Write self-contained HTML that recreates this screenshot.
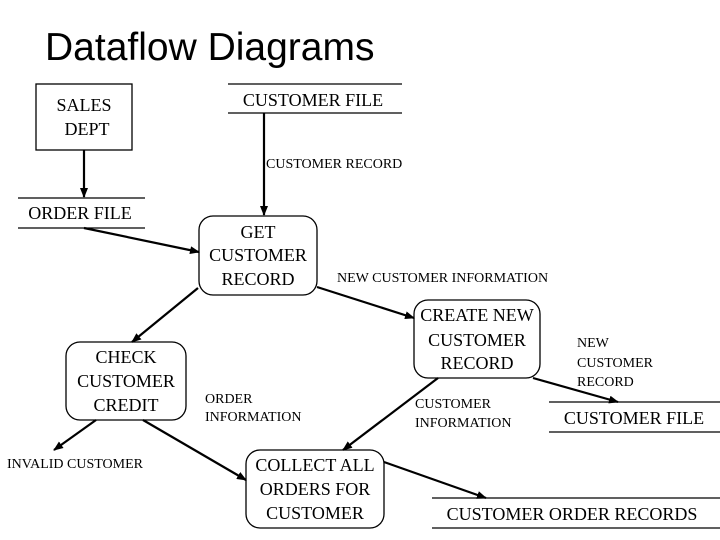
<!DOCTYPE html>
<html><head><style>
body{margin:0;background:#fff;}
svg{display:block}
.s{font-family:"Liberation Serif",serif;fill:#000}
</style></head><body>
<svg width="720" height="540" viewBox="0 0 720 540" xmlns="http://www.w3.org/2000/svg">
<defs><marker id="a" markerWidth="10" markerHeight="8" refX="9" refY="4" orient="auto" markerUnits="userSpaceOnUse"><path d="M0,0 L10,4 L0,8 z" fill="#000"/></marker></defs>
<text x="45" y="60" font-family="Liberation Sans,sans-serif" font-size="39" fill="#000">Dataflow Diagrams</text>
<g fill="none" stroke="#000" stroke-width="1.3">
<rect x="36" y="84" width="96" height="66"/>
<line x1="228" y1="84" x2="402" y2="84"/><line x1="228" y1="113" x2="402" y2="113"/>
<line x1="18" y1="198" x2="145" y2="198"/><line x1="18" y1="228" x2="145" y2="228"/>
<rect x="199" y="216" width="118" height="79" rx="14"/>
<rect x="414" y="300" width="126" height="78" rx="14"/>
<rect x="66" y="342" width="120" height="78" rx="14"/>
<rect x="246" y="450" width="138" height="78" rx="14"/>
<line x1="549" y1="402" x2="720" y2="402"/><line x1="549" y1="432" x2="720" y2="432"/>
<line x1="432" y1="498" x2="720" y2="498"/><line x1="432" y1="528" x2="720" y2="528"/>
</g>
<g stroke="#000" stroke-width="2.2" marker-end="url(#a)">
<line x1="84" y1="150" x2="84" y2="197"/>
<line x1="264" y1="113" x2="264" y2="215"/>
<line x1="84" y1="228" x2="199" y2="252"/>
<line x1="317" y1="287" x2="414" y2="318"/>
<line x1="533" y1="378" x2="618" y2="402"/>
<line x1="438" y1="378" x2="343" y2="450"/>
<line x1="198" y1="288" x2="132" y2="342"/>
<line x1="143" y1="420" x2="246" y2="480"/>
<line x1="96" y1="420" x2="54" y2="450"/>
<line x1="384" y1="462" x2="486" y2="498"/>
</g>
<g class="s" font-size="18" text-anchor="middle">
<text x="84" y="111">SALES</text><text x="87" y="135">DEPT</text>
<text x="313" y="106">CUSTOMER FILE</text>
<text x="80" y="219">ORDER FILE</text>
<text x="258" y="238">GET</text><text x="258" y="261">CUSTOMER</text><text x="258" y="285">RECORD</text>
<text x="477" y="321">CREATE NEW</text><text x="477" y="346">CUSTOMER</text><text x="477" y="369">RECORD</text>
<text x="126" y="363">CHECK</text><text x="126" y="387">CUSTOMER</text><text x="126" y="411">CREDIT</text>
<text x="315" y="471">COLLECT ALL</text><text x="315" y="495">ORDERS FOR</text><text x="315" y="519">CUSTOMER</text>
<text x="634" y="424">CUSTOMER FILE</text>
<text x="572" y="520">CUSTOMER ORDER RECORDS</text>
</g>
<g class="s" font-size="14">
<text x="266" y="168">CUSTOMER RECORD</text>
<text x="337" y="282">NEW CUSTOMER INFORMATION</text>
<text x="577" y="347">NEW</text><text x="577" y="367">CUSTOMER</text><text x="577" y="386">RECORD</text>
<text x="415" y="408">CUSTOMER</text><text x="415" y="427">INFORMATION</text>
<text x="205" y="403">ORDER</text><text x="205" y="421">INFORMATION</text>
<text x="7" y="468">INVALID CUSTOMER</text>
</g>
</svg>
</body></html>
